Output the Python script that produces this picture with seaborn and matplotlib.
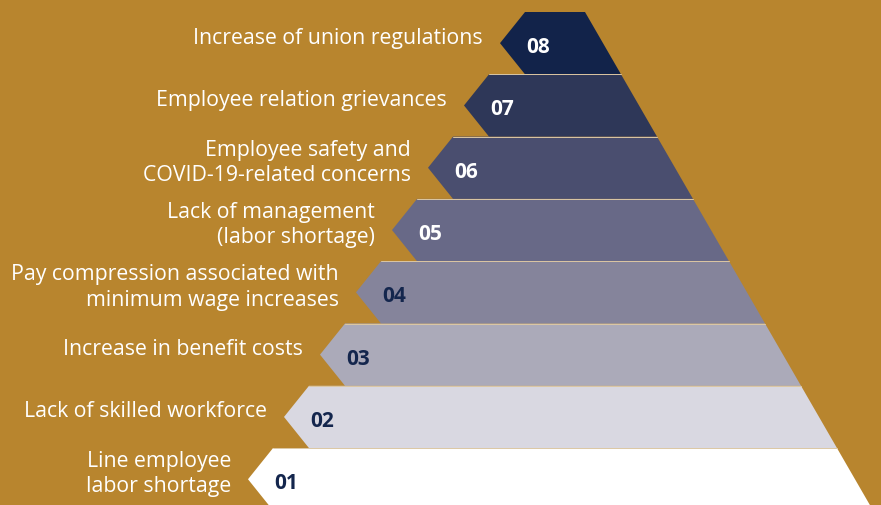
import matplotlib
matplotlib.use("Agg")
import matplotlib.pyplot as plt
import seaborn as sns

# pyramid levels, top (08) to bottom (01)
numbers = ["08", "07", "06", "05", "04", "03", "02", "01"]
labels = [
    "Increase of union regulations",
    "Employee relation grievances",
    "Employee safety and\nCOVID-19-related concerns",
    "Lack of management\n(labor shortage)",
    "Pay compression associated with\nminimum wage increases",
    "Increase in benefit costs",
    "Lack of skilled workforce",
    "Line employee\nlabor shortage",
]
band_colors = ["#12234a", "#2e3758", "#4a4e6f", "#686987", "#85849b",
               "#abaab9", "#d9d8e1", "#ffffff"]
number_colors = ["white"] * 4 + ["#14264d"] * 4

bg = "#b8852e"

sns.set_style("white")
plt.rcParams["font.family"] = ["Open Sans", "DejaVu Sans"]

fig = plt.figure(figsize=(8.81, 5.06), dpi=100, facecolor=bg)
ax = fig.add_axes([0, 0, 1, 1])
ax.set_facecolor(bg)
ax.set_xlim(0, 881)
ax.set_ylim(506, 0)
ax.axis("off")

top0, h = 13, 62.3       # first band top, band height
left0, right0 = 525, 585 # top corners of the top band
slope = 36.0             # horizontal shift per band
notch = 25

for k, (num, lab) in enumerate(zip(numbers, labels)):
    y0 = top0 + k * h
    y1 = y0 + h
    xl = left0 - k * slope
    xr0 = right0 + k * slope
    xr1 = xr0 + slope
    ym = (y0 + y1) / 2
    ax.fill([xl, xr0, xr1, xl, xl - notch], [y0, y0, y1, y1, ym],
            color=band_colors[k], lw=0, zorder=2)
    if k > 0:
        ax.plot([xl, xr0], [y0, y0], color="#dcc7a3", lw=0.7, zorder=3)
    ax.text(xl + 1, ym + 1, num, color=number_colors[k], fontsize=15,
            fontweight="bold", ha="left", va="center_baseline", zorder=4)
    ax.text(xl - notch - 17, ym - 6, lab, color="white", fontsize=15.3,
            ha="right", va="center", linespacing=1.28, zorder=4)

fig.savefig("out.png", dpi=100, facecolor=bg)
